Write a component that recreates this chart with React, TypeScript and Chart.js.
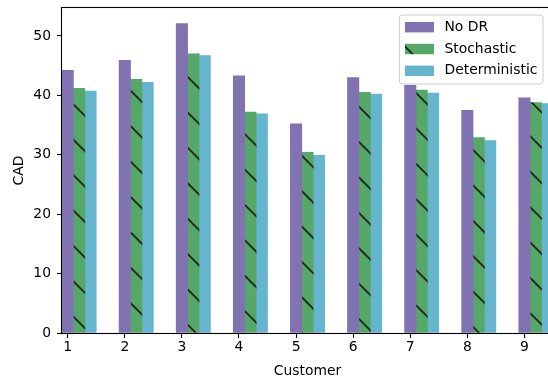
import React, { useEffect, useRef } from 'react';
import { Chart, registerables } from 'chart.js';

Chart.register(...registerables);

const customers = [1, 2, 3, 4, 5, 6, 7, 8, 9];
const seriesLabels = ['No DR', 'Stochastic', 'Deterministic'];
const noDR = [44.2, 45.9, 52.1, 43.3, 35.2, 43.0, 41.7, 37.5, 39.6];
const stochastic = [41.2, 42.7, 47.0, 37.2, 30.4, 40.5, 40.9, 32.9, 38.8];
const deterministic = [40.7, 42.2, 46.7, 36.9, 29.9, 40.2, 40.4, 32.4, 38.6];
const yTicks = [0, 10, 20, 30, 40, 50];
const xLabel = 'Customer';
const yLabel = 'CAD';

const COLORS = ['#8172B2', '#55A868', '#64B5CD'];
const BAR_W = 0.2;
const FONT = 'DejaVu Sans';
const FS = 13.9;
const CW = 553;
const CH = 381;

function makeHatch(): CanvasPattern | string {
  const spacing = 35.4;
  const n = 5;
  const size = Math.round(spacing * n);
  const c = document.createElement('canvas');
  c.width = size;
  c.height = size;
  const g = c.getContext('2d');
  if (!g) return COLORS[1];
  g.fillStyle = COLORS[1];
  g.fillRect(0, 0, size, size);
  g.strokeStyle = '#000';
  g.lineWidth = 1.4;
  for (let k = -n - 1; k <= n + 1; k++) {
    const off = k * (size / n);
    g.beginPath();
    g.moveTo(off - 2, -2);
    g.lineTo(off + size + 2, size + 2);
    g.stroke();
  }
  const ctx = document.createElement('canvas').getContext('2d');
  const p = ctx ? ctx.createPattern(c, 'repeat') : null;
  if (!p) return COLORS[1];
  try {
    p.setTransform(new DOMMatrix().translate(4.5, 0));
  } catch (e) {}
  return p;
}

const framePlugin = {
  id: 'frame',
  afterDatasetsDraw(chart: any) {
    const { ctx, chartArea } = chart;
    ctx.save();
    ctx.strokeStyle = '#000';
    ctx.lineWidth = 1.1;
    ctx.strokeRect(chartArea.left - 0.5, chartArea.top - 0.5, chartArea.right - chartArea.left + 1, chartArea.bottom - chartArea.top + 1);
    ctx.restore();
  },
};

const legendPlugin = {
  id: 'mplLegend',
  afterDraw(chart: any) {
    const { ctx, chartArea } = chart;
    const ds = chart.data.datasets;
    ctx.save();
    ctx.font = `${FS}px "${FONT}"`;
    let maxText = 0;
    ds.forEach((d: any) => {
      maxText = Math.max(maxText, ctx.measureText(d.label).width);
    });
    const pad = 5.6;
    const handle = 29;
    const gap = 10.5;
    const rowH = 21.8;
    const boxW = pad + handle + gap + maxText + pad;
    const boxH = 69;
    const right = chartArea.right - 10;
    const top = chartArea.top + 7;
    const left = right - boxW;
    const r = 3;
    ctx.beginPath();
    ctx.moveTo(left + r, top);
    ctx.lineTo(left + boxW - r, top);
    ctx.quadraticCurveTo(left + boxW, top, left + boxW, top + r);
    ctx.lineTo(left + boxW, top + boxH - r);
    ctx.quadraticCurveTo(left + boxW, top + boxH, left + boxW - r, top + boxH);
    ctx.lineTo(left + r, top + boxH);
    ctx.quadraticCurveTo(left, top + boxH, left, top + boxH - r);
    ctx.lineTo(left, top + r);
    ctx.quadraticCurveTo(left, top, left + r, top);
    ctx.closePath();
    ctx.fillStyle = 'rgba(255,255,255,0.8)';
    ctx.fill();
    ctx.strokeStyle = '#cccccc';
    ctx.lineWidth = 1;
    ctx.stroke();
    ds.forEach((d: any, i: number) => {
      const cy = top + 12.2 + i * rowH;
      ctx.fillStyle = d.backgroundColor;
      ctx.fillRect(left + pad, cy - 5.2, handle, 10.4);
      ctx.fillStyle = '#000';
      ctx.textBaseline = 'middle';
      ctx.textAlign = 'left';
      ctx.fillText(d.label, left + pad + handle + gap, cy);
    });
    ctx.restore();
  },
};

export default function App() {
  const ref = useRef<HTMLCanvasElement | null>(null);
  useEffect(() => {
    if (!ref.current) return;
    const hatch = makeHatch();
    const series = [noDR, stochastic, deterministic];
    const fills: any[] = [COLORS[0], hatch, COLORS[2]];
    const allVals = series.flat();
    const yMax = Math.max(...allVals) * 1.05;
    const tickFont = { family: FONT, size: FS };
    const zeroPad = (s: any) => {
      s.paddingTop = 0;
      s.paddingBottom = 0;
      s.paddingLeft = 0;
      s.paddingRight = 0;
    };
    const chart = new Chart(ref.current, {
      type: 'bar',
      data: {
        datasets: series.map((vals, k) => ({
          label: seriesLabels[k],
          data: customers.map((c, i) => ({ x: c + k * BAR_W, y: vals[i] })),
          backgroundColor: fills[k],
          borderWidth: 0,
          grouped: false,
          barPercentage: 1,
          categoryPercentage: 1,
        })),
      } as any,
      options: {
        animation: false,
        responsive: false,
        devicePixelRatio: 1,
        layout: { padding: { top: 8, left: 0, right: 0, bottom: 0 } },
        plugins: { legend: { display: false }, tooltip: { enabled: false } },
        scales: {
          x: {
            type: 'linear',
            bounds: 'data',
            offset: false,
            min: customers[0] - BAR_W / 2,
            max: customers[customers.length - 1] + 2 * BAR_W + BAR_W / 2,
            afterBuildTicks: (s: any) => { s.ticks = customers.map((v) => ({ value: v })); },
            ticks: { font: tickFont, color: '#000', padding: 1.5, maxRotation: 0, autoSkip: false },
            grid: { display: true, offset: false, drawOnChartArea: false, drawTicks: true, tickLength: 5, tickColor: '#000', tickWidth: 1.1 },
            border: { display: false },
            title: { display: true, text: xLabel, font: tickFont, color: '#000', padding: { top: 0, bottom: 1 } },
            afterFit: (s: any) => { s.height = 48; zeroPad(s); },
          },
          y: {
            type: 'linear',
            bounds: 'data',
            min: 0,
            max: yMax,
            afterBuildTicks: (s: any) => { s.ticks = yTicks.map((v) => ({ value: v })); },
            ticks: { font: tickFont, color: '#000', padding: 6, autoSkip: false },
            grid: { display: true, offset: false, drawOnChartArea: false, drawTicks: true, tickLength: 5, tickColor: '#000', tickWidth: 1.1 },
            border: { display: false },
            title: { display: true, text: yLabel, font: tickFont, color: '#000', padding: { top: 11, bottom: 0 } },
            afterFit: (s: any) => { s.width = 62; zeroPad(s); },
          },
        },
      } as any,
      plugins: [framePlugin, legendPlugin],
    });
    return () => chart.destroy();
  }, []);
  return (
    <div style={{ position: 'fixed', left: 0, top: 0, width: 548, height: 381, overflow: 'hidden', background: '#fff' }}>
      <canvas ref={ref} width={CW} height={CH} style={{ display: 'block', width: CW, height: CH }} />
    </div>
  );
}
